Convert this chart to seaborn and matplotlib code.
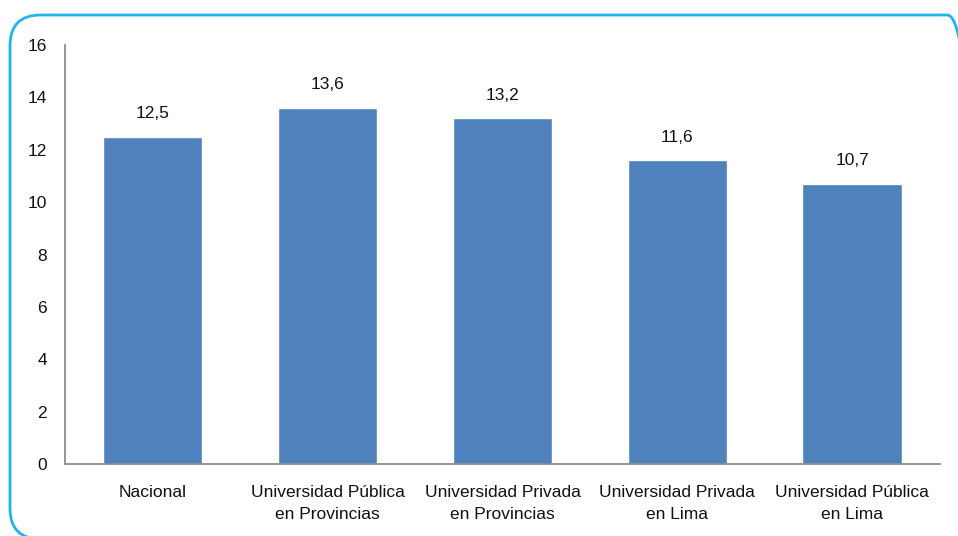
import pandas as pd
import seaborn as sns
import matplotlib.pyplot as plt
from matplotlib.patches import FancyBboxPatch

categorias = ["Nacional", "Universidad Pública\nen Provincias", "Universidad Privada\nen Provincias",
              "Universidad Privada\nen Lima", "Universidad Pública\nen Lima"]
valores = [12.5, 13.6, 13.2, 11.6, 10.7]
etiquetas = ["12,5", "13,6", "13,2", "11,6", "10,7"]

df = pd.DataFrame({"cat": categorias, "val": valores})

sns.set_style("white")
plt.rcParams['font.family'] = ['Liberation Sans', 'DejaVu Sans']

fig = plt.figure(figsize=(9.58, 5.36), dpi=100)
ax = fig.add_axes([0.068, 0.134, 0.913, 0.782])

sns.barplot(data=df, x="cat", y="val", color="#4F81BD", saturation=1, width=0.57, ax=ax)

for i, (v, t) in enumerate(zip(valores, etiquetas)):
    ax.text(i, v + 0.6, t, ha="center", va="bottom", fontsize=12.5, color="#111111")

ax.set_ylim(0, 16)
ax.set_yticks(range(0, 17, 2))
ax.set_xlim(-0.5, 4.5)
ax.set_xlabel("")
ax.set_ylabel("")
ax.tick_params(axis="both", length=0, labelsize=12.5, colors="#111111")
ax.tick_params(axis="y", pad=13)
ax.tick_params(axis="x", pad=15)
for lab in ax.get_xticklabels():
    lab.set_linespacing(1.6)
for s in ["top", "right"]:
    ax.spines[s].set_visible(False)
for s in ["left", "bottom"]:
    ax.spines[s].set_color("#8c8c8c")
    ax.spines[s].set_linewidth(1.3)

# marco redondeado
marco = FancyBboxPatch((10 / 958, -3 / 536), 968 / 958, 524 / 536,
                       boxstyle="round,pad=0,rounding_size=0.032",
                       transform=fig.transFigure, fill=False, edgecolor="#1EB4EE",
                       linewidth=2, mutation_aspect=958 / 536, clip_on=False)
fig.patches.append(marco)

fig.savefig("out.png", dpi=100)
